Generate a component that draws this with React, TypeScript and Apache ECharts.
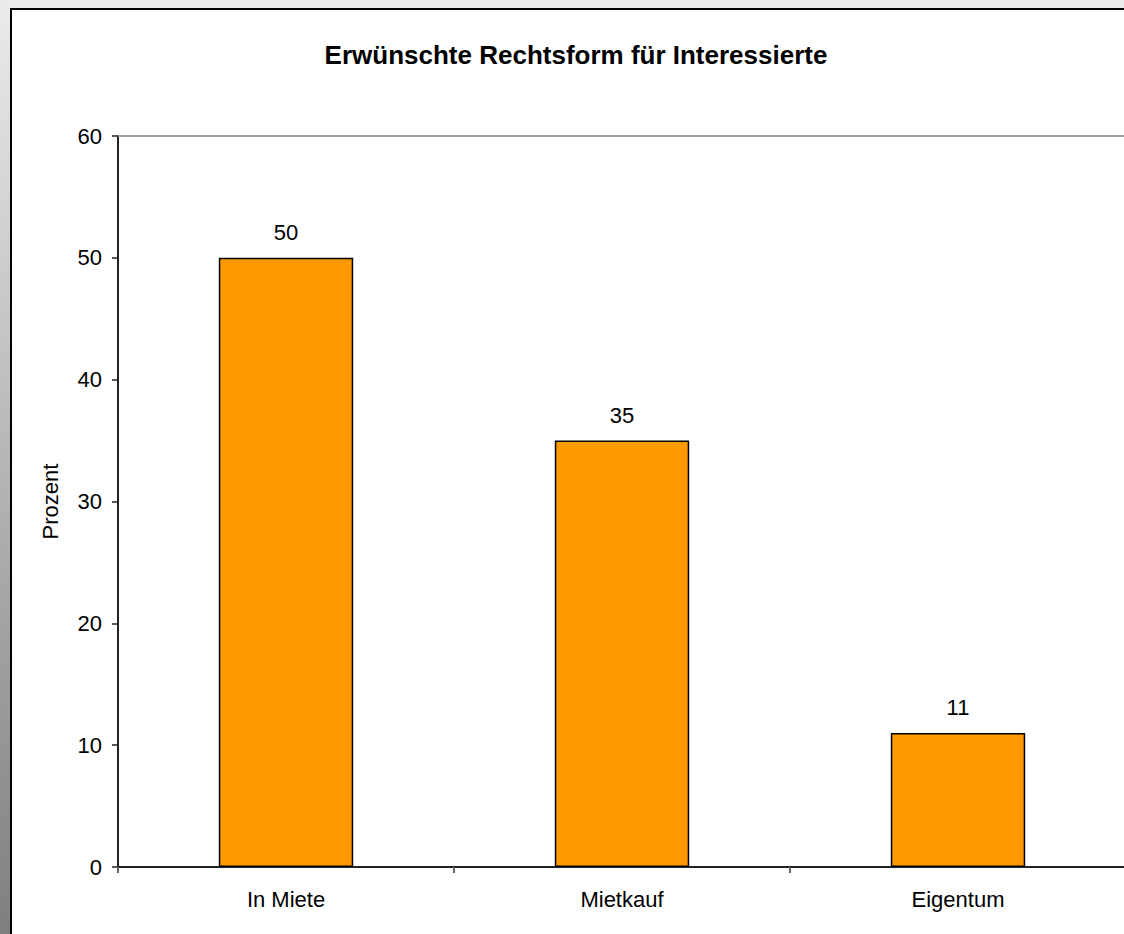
import React, { useEffect, useRef } from "react";
import * as echarts from "echarts";

const categories = ["In Miete", "Mietkauf", "Eigentum"];
const values = [50, 35, 11];
const yTicks = { min: 0, max: 60, interval: 10 };
const titleText = "Erwünschte Rechtsform für Interessierte";
const yName = "Prozent";

const FONT = "'Liberation Sans', Arial, sans-serif";

export default function App() {
  const ref = useRef<HTMLDivElement>(null);
  useEffect(() => {
    if (!ref.current) return;
    const chart = echarts.init(ref.current, null, { renderer: "svg" });
    chart.setOption({
      animation: false,
      backgroundColor: "#ffffff",
      graphic: [
        { type: "rect", z: -10, shape: { x: 0, y: 0, width: 1124, height: 10 }, style: { fill: "#ebebeb" } },
        {
          type: "rect",
          z: -10,
          shape: { x: 0, y: 0, width: 10, height: 934 },
          style: {
            fill: new echarts.graphic.LinearGradient(0, 0, 0, 1, [
              { offset: 0, color: "#ebebeb" },
              { offset: 1, color: "#7f7f7f" },
            ]),
          },
        },
        { type: "rect", z: -9, shape: { x: 10, y: 8, width: 1114, height: 2 }, style: { fill: "#000000" } },
        { type: "rect", z: -9, shape: { x: 10, y: 8, width: 2, height: 926 }, style: { fill: "#000000" } },
        {
          type: "rect",
          z: 100,
          shape: { x: 1100, y: 138, width: 24, height: 727 },
          style: { fill: "#ffffff" },
        },
        {
          type: "rect",
          z: 100,
          shape: { x: 1100, y: 869, width: 24, height: 12 },
          style: { fill: "#ffffff" },
        },
        {
          type: "line",
          z: 101,
          shape: { x1: 118, y1: 136, x2: 1124, y2: 136 },
          style: { stroke: "#a0a0a0", lineWidth: 2 },
        },
      ],
      title: {
        text: titleText,
        left: 571,
        top: 37,
        textAlign: "center",
        textStyle: { fontFamily: FONT, fontSize: 26, fontWeight: "bold", color: "#000" },
      },
      grid: {
        left: 118,
        top: 136,
        width: 1008,
        height: 731,
        outerBoundsMode: "none",
        containLabel: false,
      },
      xAxis: {
        type: "category",
        data: categories,
        axisLine: { lineStyle: { color: "#222", width: 2 } },
        axisTick: { show: true, length: 6, lineStyle: { color: "#666", width: 2 } },
        axisLabel: { fontFamily: FONT, fontSize: 22, color: "#000", margin: 21 },
      },
      yAxis: {
        type: "value",
        min: yTicks.min,
        max: yTicks.max,
        interval: yTicks.interval,
        name: yName,
        nameLocation: "middle",
        nameGap: 57,
        nameTextStyle: { fontFamily: FONT, fontSize: 22, color: "#000" },
        axisLine: { show: true, lineStyle: { color: "#222", width: 2 } },
        axisTick: { show: true, length: 6, lineStyle: { color: "#222", width: 1.5 } },
        axisLabel: { fontFamily: FONT, fontSize: 22, color: "#000", margin: 16 },
        splitLine: { show: false },
      },
      series: [
        {
          type: "bar",
          data: values,
          barWidth: "40%",
          itemStyle: { color: "#ff9900", borderColor: "#000", borderWidth: 1.5 },
          label: {
            show: true,
            position: "top",
            distance: 14,
            fontFamily: FONT,
            fontSize: 22,
            color: "#000",
          },
        },
      ],
    });
    return () => chart.dispose();
  }, []);
  return (
    <div
      ref={ref}
      style={{ position: "fixed", left: 0, top: 0, width: 1124, height: 934, overflow: "hidden" }}
    />
  );
}
